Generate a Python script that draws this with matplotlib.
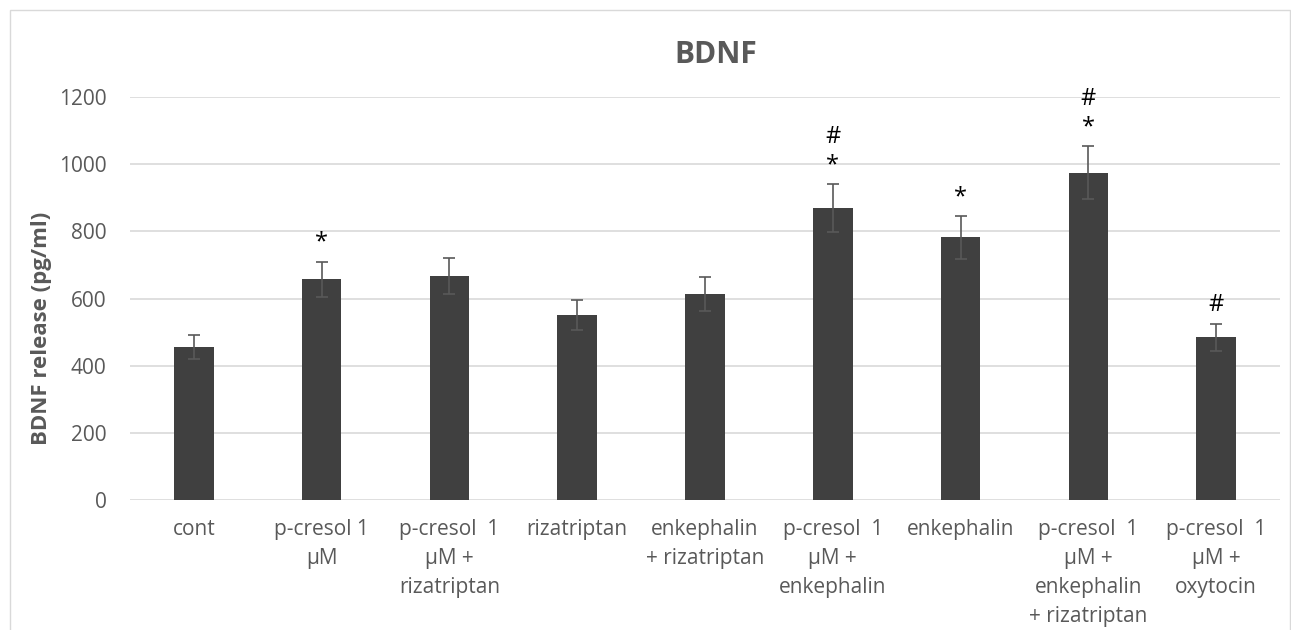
import matplotlib.pyplot as plt
from matplotlib.patches import Rectangle

plt.rcParams['font.family'] = ['Open Sans', 'DejaVu Sans']

# Data
labels = ['cont', 'p-cresol 1\nµM', 'p-cresol  1\nµM +\nrizatriptan', 'rizatriptan',
          'enkephalin\n+ rizatriptan', 'p-cresol  1\nµM +\nenkephalin', 'enkephalin',
          'p-cresol  1\nµM +\nenkephalin\n+ rizatriptan', 'p-cresol  1\nµM +\noxytocin']
bdnf = [455, 657, 666, 551, 613, 869, 782, 975, 484]
errors = [36, 53, 54, 45, 50, 71, 63, 79, 41]
marks = ['', '*', '', '', '', '#\n*', '*', '#\n*', '#']

fig = plt.figure(figsize=(12.91, 6.30), dpi=100)
ax = fig.add_axes([0.1007, 0.2063, 0.8908, 0.6397])

x = range(len(labels))
ax.bar(x, bdnf, width=0.31, color='#404040', zorder=3)
ax.errorbar(x, bdnf, yerr=errors, fmt='none', ecolor='#595959',
            elinewidth=1.2, capsize=4.5, capthick=1.2, zorder=4)

for i, m in enumerate(marks):
    if m:
        ax.annotate(m, xy=(i, bdnf[i] + errors[i]), xytext=(0, 5),
                    textcoords='offset points', ha='center', va='bottom',
                    fontsize=17, linespacing=1.25, color='black',
                    annotation_clip=False)

ax.set_ylim(0, 1200)
ax.set_xlim(-0.5, len(labels) - 0.5)
ax.set_yticks(range(0, 1201, 200))
ax.set_xticks(list(x))
ax.set_xticklabels(labels, fontsize=15, color='#595959', linespacing=1.5)
ax.tick_params(axis='y', labelsize=15, labelcolor='#595959', length=0, pad=17)
ax.tick_params(axis='x', length=0, pad=14)
ax.grid(axis='y', color='#d9d9d9', linewidth=1.2, zorder=0)
for s in ['top', 'right', 'left', 'bottom']:
    ax.spines[s].set_visible(False)

fig.text(0.5546, 0.913, 'BDNF', ha='center', va='center', fontsize=21.5,
         fontweight='bold', color='#595959')
fig.text(0.032, 0.478, 'BDNF release (pg/ml)', ha='center', va='center',
         rotation=90, fontsize=16, fontweight='bold', color='#595959')

# light frame around the chart
fig.patches.append(Rectangle((10 / 1291, -0.1), 1 - 11 / 1291, 1.1 - 10 / 630,
                             transform=fig.transFigure, fill=False,
                             edgecolor='#d9d9d9', linewidth=1))

fig.savefig('out.png', dpi=100)
